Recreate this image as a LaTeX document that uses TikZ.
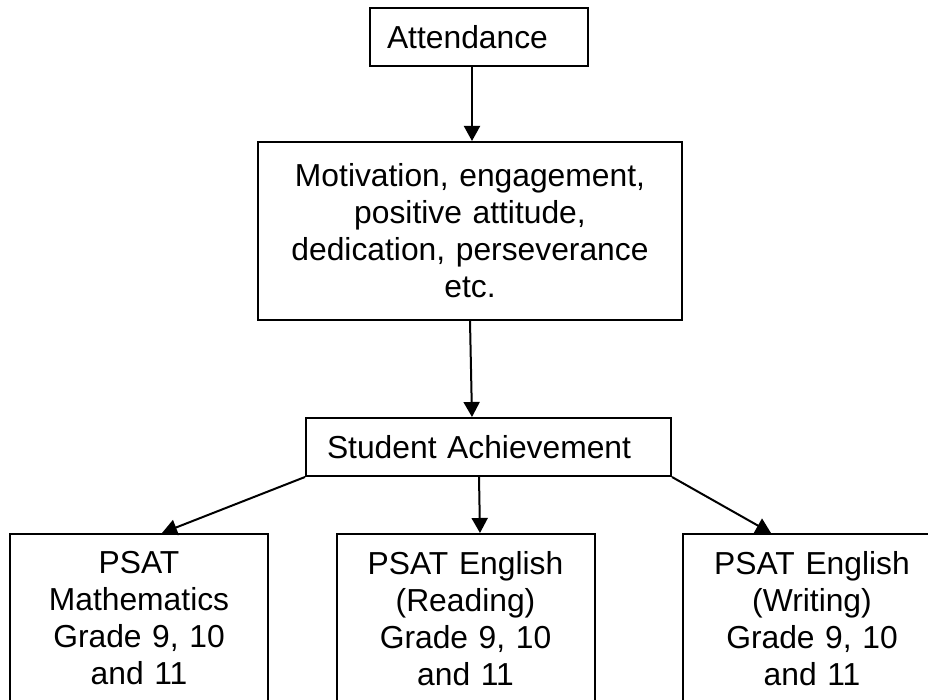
\documentclass[tikz,border=0pt]{standalone}
\usepackage{fontspec}
\setmainfont{Liberation Sans}
\usetikzlibrary{arrows.meta}

\begin{document}
\begin{tikzpicture}[x=0.5pt,y=-0.5pt,
                    box/.style={draw,line width=1pt,inner ysep=0pt,font=\fontsize{15.9}{18.5}\selectfont},
                    arr/.style={line width=1pt,-{Triangle[width=8pt,length=7.5pt]}}]
                    \useasboundingbox (0,0) rectangle (928,700);
                    \clip (0,0) rectangle (928,700);
                    {

                    % Drawing box Attendance
                    \node [box,align=left,text width=92pt,inner xsep=8.5pt,minimum height=29pt] (att) at (479,37) {Attendance};%

                    % Drawing box Motivation
                    \node [box,align=center,text width=192pt,inner xsep=10pt,minimum height=89pt] (motiv) at (470,231)
                          {Motivation, engagement,\\ positive attitude,\\ dedication, perseverance\\ etc.};%

                    % Drawing box Student Achievement
                    \node [box,align=left,text width=161.5pt,inner xsep=10.5pt,minimum height=29pt] (achiev) at (488.5,447) {Student Achievement};%

                    % Drawing boxes PSAT
                    \node [box,anchor=north,align=center,text width=110pt,inner xsep=9.5pt,inner ysep=8.5pt] (math) at (139,533)
                          {PSAT\\ Mathematics\\ Grade 9, 10\\ and 11};%
                    \node [box,anchor=north,align=center,text width=110pt,inner xsep=9.5pt,inner ysep=8.5pt] (read) at (465.5,533)
                          {PSAT English\\ (Reading)\\ Grade 9, 10\\ and 11};%
                    \node [box,anchor=north,align=center,text width=110pt,inner xsep=9.5pt,inner ysep=8.5pt] (writ) at (812,533)
                          {PSAT English\\ (Writing)\\ Grade 9, 10\\ and 11};%

                    % Drawing arrows
                    \draw [arr] ([xshift=-3.5pt]att.south) -- ([xshift=1pt]motiv.north);%
                    \draw [arr] (motiv.south) -- ([xshift=-8.25pt]achiev.north);%
                    \draw [arr] (achiev.south west) -- ([xshift=11.5pt]math.north);%
                    \draw [arr] ([xshift=-4.75pt]achiev.south) -- ([xshift=7.25pt]read.north);%
                    \draw [arr] (achiev.south east) -- ([xshift=-20.5pt]writ.north);%
                    }
\end{tikzpicture}
\end{document}
